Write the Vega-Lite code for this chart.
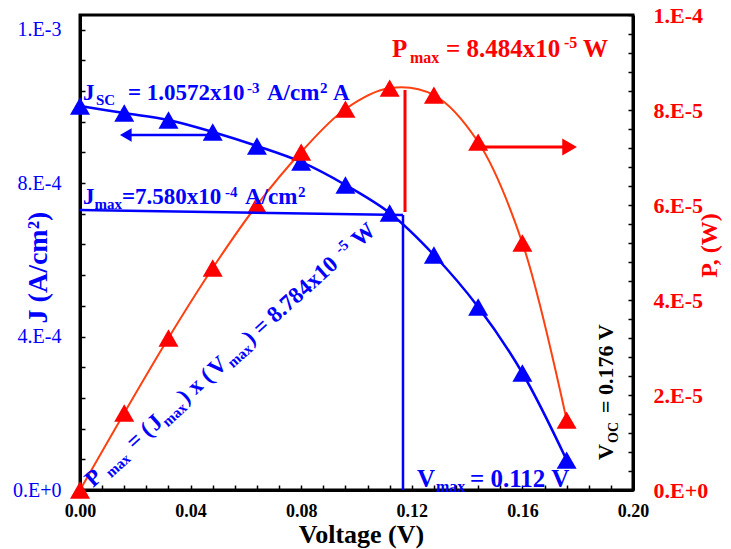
{
  "$schema": "https://vega.github.io/schema/vega-lite/v6.json",
  "width": 553,
  "height": 475,
  "autosize": {"type": "none"},
  "padding": {"left": 80, "top": 15, "right": 98, "bottom": 59},
  "background": "white",
  "config": {
    "view": {"stroke": "black", "strokeWidth": 3},
    "font": "Liberation Serif",
    "axis": {"grid": false, "domainColor": "black", "domainWidth": 3, "tickColor": "black", "tickWidth": 1.5, "tickSize": -5, "tickCount": 100, "labelFlush": false, "labelOverlap": false, "labelBound": false}
  },
  "datasets": {
    "iv": [
      {"V": 0.000, "J": 0.0010007, "P": 0},
      {"V": 0.016, "J": 0.0009824, "P": 0.00001621},
      {"V": 0.032, "J": 0.0009642, "P": 0.0000320},
      {"V": 0.048, "J": 0.0009329, "P": 0.00004673},
      {"V": 0.064, "J": 0.0008965, "P": 0.0000600},
      {"V": 0.080, "J": 0.0008548, "P": 0.00007115},
      {"V": 0.096, "J": 0.0007948, "P": 0.0000802},
      {"V": 0.112, "J": 0.0007218, "P": 0.00008462},
      {"V": 0.128, "J": 0.0006124, "P": 0.00008315},
      {"V": 0.144, "J": 0.0004769, "P": 0.00007325},
      {"V": 0.160, "J": 0.0003049, "P": 0.0000520},
      {"V": 0.176, "J": 0.0000780, "P": 0.0000147}
    ],
    "guides": [
      {"g": "bh", "V": 0, "J": 0.00072965, "V2": 0.116817, "J2": 0.00071662},
      {"g": "bv", "V": 0.116817, "J": 0.00071662, "V2": 0.116817, "J2": 0},
      {"g": "ba", "V": 0.04774, "J": 0.00092509, "V2": 0.01656, "J2": 0.00092509},
      {"g": "rv", "V": 0.117541, "J": 0.00104236, "V2": 0.117541, "J2": 0.00072444},
      {"g": "ra", "V": 0.14467, "J": 0.00089382, "V2": 0.17707, "J2": 0.00089382}
    ],
    "heads": [
      {"g": "bl", "V": 0.01656, "J": 0.00092509},
      {"g": "rr", "V": 0.17707, "J": 0.00089382}
    ],
    "notes": [
      {"g": "jb", "t": "J", "V": 0.001085, "J": 0.0010163},
      {"g": "jb", "t": "= 1.0572x10", "V": 0.01736, "J": 0.0010163},
      {"g": "jb", "t": "A/cm", "V": 0.067631, "J": 0.0010163},
      {"g": "jb", "t": "A", "V": 0.091501, "J": 0.0010163},
      {"g": "jb", "t": "J", "V": 0.001085, "J": 0.00074529},
      {"g": "jb", "t": "=7.580x10", "V": 0.01519, "J": 0.00074529},
      {"g": "jb", "t": "A/cm", "V": 0.059675, "J": 0.00074529},
      {"g": "js", "t": "SC", "V": 0.005787, "J": 0.0010163},
      {"g": "js", "t": "max", "V": 0.005244, "J": 0.00074529},
      {"g": "jp", "t": "-3", "V": 0.060398, "J": 0.0010163},
      {"g": "jp", "t": "2", "V": 0.086799, "J": 0.0010163},
      {"g": "jp", "t": "-4", "V": 0.052441, "J": 0.00074529},
      {"g": "jp", "t": "2", "V": 0.078843, "J": 0.00074529},
      {"g": "vb", "t": "V", "V": 0.121881, "J": 0.000007818},
      {"g": "vb", "t": "= 0.112 V", "V": 0.141049, "J": 0.000007818},
      {"g": "vs", "t": "max", "V": 0.128752, "J": 0.000007818},
      {"g": "pb", "t": "P", "V": 0.112839, "J": 0.00112835},
      {"g": "pb", "t": "= 8.484x10", "V": 0.13237, "J": 0.00112835},
      {"g": "pb", "t": "W", "V": 0.181917, "J": 0.00112835},
      {"g": "ps", "t": "max", "V": 0.119349, "J": 0.00112835},
      {"g": "pp", "t": "-5", "V": 0.175045, "J": 0.00112835},
      {"g": "ob", "t": "V", "V": 0.192767, "J": 0.000078177},
      {"g": "ob", "t": "= 0.176 V", "V": 0.192767, "J": 0.000200654},
      {"g": "os", "t": "OC", "V": 0.192767, "J": 0.000122477},
      {"g": "rb", "t": "P", "V": 0.004702, "J": 0.000005212},
      {"g": "rb", "t": "= (", "V": 0.01975, "J": 0.000102924},
      {"g": "rb", "t": "J", "V": 0.027277, "J": 0.000151719},
      {"g": "rb", "t": ") x (", "V": 0.038297, "J": 0.000223239},
      {"g": "rb", "t": "V", "V": 0.049313, "J": 0.000294716},
      {"g": "rb", "t": ") = 8.784x10", "V": 0.061945, "J": 0.00037667},
      {"g": "rb", "t": "W", "V": 0.101183, "J": 0.000631238},
      {"g": "rs", "t": "max", "V": 0.010076, "J": 0.000040069},
      {"g": "rs", "t": "max", "V": 0.030503, "J": 0.000172645},
      {"g": "rs", "t": "max", "V": 0.054152, "J": 0.000326091},
      {"g": "rp", "t": "-5", "V": 0.096076, "J": 0.000598089}
    ]
  },
  "layer": [
    {
      "layer": [
        {
          "data": {"name": "iv"},
          "mark": {"type": "line", "interpolate": "catmull-rom", "color": "#0000ff", "strokeWidth": 2.5},
          "encoding": {
            "x": {"field": "V", "type": "quantitative", "scale": {"domain": [0, 0.2], "nice": false, "zero": false},
              "axis": {
                "values": [0, 0.008, 0.016, 0.024, 0.032, 0.04, 0.048, 0.056, 0.064, 0.072, 0.08, 0.088, 0.096, 0.104, 0.112, 0.12, 0.128, 0.136, 0.144, 0.152, 0.16, 0.168, 0.176, 0.184, 0.192, 0.2],
                "tickCount": 100,
                "labelExpr": "abs(datum.value/0.04 - round(datum.value/0.04)) < 0.01 ? format(datum.value, '.2f') : ''",
                "labelOverlap": false, "labelFlush": false,
                "labelFont": "Liberation Serif", "labelFontSize": 18, "labelFontWeight": "bold", "labelColor": "black", "labelPadding": 17,
                "title": "Voltage (V)", "titleFont": "Liberation Serif", "titleFontSize": 26, "titleFontWeight": "bold", "titleColor": "black",
                "titleBaseline": "alphabetic", "titleAlign": "center", "titleX": 281, "titleY": 52
              }},
            "y": {"field": "J", "type": "quantitative", "scale": {"domain": [0, 0.0012378], "nice": false},
              "axis": {
                "orient": "left",
                "values": [0, 0.00008, 0.00016, 0.00024, 0.00032, 0.0004, 0.00048, 0.00056, 0.00064, 0.00072, 0.0008, 0.00088, 0.00096, 0.00104, 0.00112, 0.0012],
                "tickCount": 100,
                "labelExpr": "abs(datum.value/0.0004 - round(datum.value/0.0004)) < 0.01 ? (datum.value < 0.0002 ? '0.E+0' : datum.value < 0.0006 ? '4.E-4' : datum.value < 0.001 ? '8.E-4' : '1.E-3') : ''",
                "labelOverlap": false,
                "labelFont": "Liberation Serif", "labelFontSize": 20, "labelColor": "#0000ff", "labelPadding": 24,
                "title": "J  (A/cm²)", "titleFont": "Liberation Serif", "titleFontSize": 28, "titleFontWeight": "bold", "titleColor": "#0000ff",
                "titleAngle": 270, "titleBaseline": "alphabetic", "titleAlign": "center", "titleX": -34, "titleY": 252
              }}
          }
        },
        {
          "data": {"name": "iv"},
          "mark": {"type": "point", "shape": "triangle-up", "filled": true, "size": 400, "color": "#0000ff", "opacity": 1},
          "encoding": {
            "x": {"field": "V", "type": "quantitative", "scale": {"domain": [0, 0.2], "nice": false, "zero": false}},
            "y": {"field": "J", "type": "quantitative", "scale": {"domain": [0, 0.0012378], "nice": false}}
          }
        }
      ]
    },
    {
      "layer": [
        {
          "data": {"name": "iv"},
          "mark": {"type": "line", "interpolate": "catmull-rom", "color": "#ff4010", "strokeWidth": 2},
          "encoding": {
            "x": {"field": "V", "type": "quantitative", "scale": {"domain": [0, 0.2], "nice": false, "zero": false}},
            "y": {"field": "P", "type": "quantitative", "scale": {"domain": [0, 0.0001], "nice": false},
              "axis": {
                "orient": "right",
                "values": [0, 0.000004, 0.000008, 0.000012, 0.000016, 0.00002, 0.000024, 0.000028, 0.000032, 0.000036, 0.00004, 0.000044, 0.000048, 0.000052, 0.000056, 0.00006, 0.000064, 0.000068, 0.000072, 0.000076, 0.00008, 0.000084, 0.000088, 0.000092, 0.000096, 0.0001],
                "tickCount": 100,
                "labelExpr": "abs(datum.value/0.00002 - round(datum.value/0.00002)) < 0.01 ? (datum.value < 0.00001 ? '0.E+0' : datum.value > 0.000099 ? '1.E-4' : round(datum.value/0.00001) + '.E-5') : ''",
                "labelOverlap": false,
                "labelFont": "Liberation Serif", "labelFontSize": 22, "labelFontWeight": "bold", "labelColor": "#ff0000", "labelPadding": 25,
                "title": "P, (W)", "titleFont": "Liberation Serif", "titleFontSize": 24, "titleFontWeight": "bold", "titleColor": "#ff0000",
                "titleAngle": 270, "titleBaseline": "alphabetic", "titleAlign": "center", "titleX": 83, "titleY": 230
              }}
          }
        },
        {
          "data": {"name": "iv"},
          "mark": {"type": "point", "shape": "triangle-up", "filled": true, "size": 400, "color": "#ff0000", "opacity": 1},
          "encoding": {
            "x": {"field": "V", "type": "quantitative", "scale": {"domain": [0, 0.2], "nice": false, "zero": false}},
            "y": {"field": "P", "type": "quantitative", "scale": {"domain": [0, 0.0001], "nice": false}}
          }
        }
      ]
    },
    {
      "encoding": {
        "x": {"field": "V", "type": "quantitative", "scale": {"domain": [0, 0.2], "nice": false, "zero": false}},
        "y": {"field": "J", "type": "quantitative", "scale": {"domain": [0, 0.0012378], "nice": false}, "axis": null}
      },
      "layer": [
        {
          "data": {"name": "guides"},
          "transform": [{"filter": "datum.g == 'bh' || datum.g == 'bv' || datum.g == 'ba'"}],
          "mark": {"type": "rule", "color": "#0000ff", "strokeWidth": 2.5},
          "encoding": {"x2": {"field": "V2"}, "y2": {"field": "J2"}}
        },
        {
          "data": {"name": "guides"},
          "transform": [{"filter": "datum.g == 'rv' || datum.g == 'ra'"}],
          "mark": {"type": "rule", "color": "#ff0000", "strokeWidth": 3},
          "encoding": {"x2": {"field": "V2"}, "y2": {"field": "J2"}}
        },
        {
          "data": {"name": "heads"},
          "transform": [{"filter": "datum.g == 'bl'"}],
          "mark": {"type": "point", "shape": "triangle-left", "filled": true, "size": 180, "color": "#0000ff", "opacity": 1}
        },
        {
          "data": {"name": "heads"},
          "transform": [{"filter": "datum.g == 'rr'"}],
          "mark": {"type": "point", "shape": "triangle-right", "filled": true, "size": 290, "color": "#ff0000", "opacity": 1}
        },
        {
          "data": {"name": "notes"},
          "transform": [{"filter": "datum.g == 'jb'"}],
          "mark": {"type": "text", "align": "left", "baseline": "alphabetic", "font": "Liberation Serif", "fontWeight": "bold", "fontSize": 23, "color": "#0000ff"},
          "encoding": {"text": {"field": "t"}}
        },
        {
          "data": {"name": "notes"},
          "transform": [{"filter": "datum.g == 'js'"}],
          "mark": {"type": "text", "align": "left", "baseline": "alphabetic", "font": "Liberation Serif", "fontWeight": "bold", "fontSize": 15, "dy": 5, "color": "#0000ff"},
          "encoding": {"text": {"field": "t"}}
        },
        {
          "data": {"name": "notes"},
          "transform": [{"filter": "datum.g == 'jp'"}],
          "mark": {"type": "text", "align": "left", "baseline": "alphabetic", "font": "Liberation Serif", "fontWeight": "bold", "fontSize": 15, "dy": -7, "color": "#0000ff"},
          "encoding": {"text": {"field": "t"}}
        },
        {
          "data": {"name": "notes"},
          "transform": [{"filter": "datum.g == 'vb'"}],
          "mark": {"type": "text", "align": "left", "baseline": "alphabetic", "font": "Liberation Serif", "fontWeight": "bold", "fontSize": 25, "color": "#0000ff"},
          "encoding": {"text": {"field": "t"}}
        },
        {
          "data": {"name": "notes"},
          "transform": [{"filter": "datum.g == 'vs'"}],
          "mark": {"type": "text", "align": "left", "baseline": "alphabetic", "font": "Liberation Serif", "fontWeight": "bold", "fontSize": 16, "dy": 5, "color": "#0000ff"},
          "encoding": {"text": {"field": "t"}}
        },
        {
          "data": {"name": "notes"},
          "transform": [{"filter": "datum.g == 'pb'"}],
          "mark": {"type": "text", "align": "left", "baseline": "alphabetic", "font": "Liberation Serif", "fontWeight": "bold", "fontSize": 25, "color": "#ff0000"},
          "encoding": {"text": {"field": "t"}}
        },
        {
          "data": {"name": "notes"},
          "transform": [{"filter": "datum.g == 'ps'"}],
          "mark": {"type": "text", "align": "left", "baseline": "alphabetic", "font": "Liberation Serif", "fontWeight": "bold", "fontSize": 16, "dy": 6, "color": "#ff0000"},
          "encoding": {"text": {"field": "t"}}
        },
        {
          "data": {"name": "notes"},
          "transform": [{"filter": "datum.g == 'pp'"}],
          "mark": {"type": "text", "align": "left", "baseline": "alphabetic", "font": "Liberation Serif", "fontWeight": "bold", "fontSize": 16, "dy": -9, "color": "#ff0000"},
          "encoding": {"text": {"field": "t"}}
        },
        {
          "data": {"name": "notes"},
          "transform": [{"filter": "datum.g == 'ob'"}],
          "mark": {"type": "text", "align": "left", "baseline": "alphabetic", "angle": -90, "font": "Liberation Serif", "fontWeight": "bold", "fontSize": 22, "color": "black"},
          "encoding": {"text": {"field": "t"}}
        },
        {
          "data": {"name": "notes"},
          "transform": [{"filter": "datum.g == 'os'"}],
          "mark": {"type": "text", "align": "left", "baseline": "alphabetic", "angle": -90, "font": "Liberation Serif", "fontWeight": "bold", "fontSize": 14, "dy": 5, "color": "black"},
          "encoding": {"text": {"field": "t"}}
        },
        {
          "data": {"name": "notes"},
          "transform": [{"filter": "datum.g == 'rb'"}],
          "mark": {"type": "text", "align": "left", "baseline": "alphabetic", "angle": -42, "font": "Liberation Serif", "fontWeight": "bold", "fontSize": 23, "color": "#0000ff"},
          "encoding": {"text": {"field": "t"}}
        },
        {
          "data": {"name": "notes"},
          "transform": [{"filter": "datum.g == 'rs'"}],
          "mark": {"type": "text", "align": "left", "baseline": "alphabetic", "angle": -42, "font": "Liberation Serif", "fontWeight": "bold", "fontSize": 15, "dy": 5, "color": "#0000ff"},
          "encoding": {"text": {"field": "t"}}
        },
        {
          "data": {"name": "notes"},
          "transform": [{"filter": "datum.g == 'rp'"}],
          "mark": {"type": "text", "align": "left", "baseline": "alphabetic", "angle": -42, "font": "Liberation Serif", "fontWeight": "bold", "fontSize": 15, "dy": -8, "color": "#0000ff"},
          "encoding": {"text": {"field": "t"}}
        }
      ]
    }
  ],
  "resolve": {"scale": {"y": "independent"}, "axis": {"y": "independent"}}
}
